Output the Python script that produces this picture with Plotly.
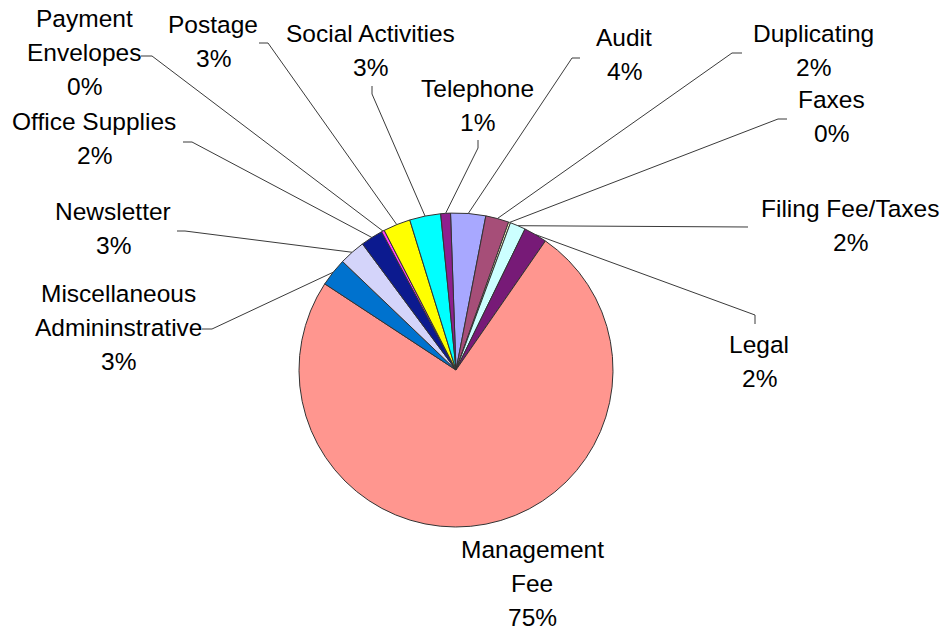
import math
import plotly.graph_objects as go

# ---------------- data ----------------
categories = ["Audit", "Duplicating", "Faxes", "Filing Fee/Taxes", "Legal",
              "Management Fee", "Miscellaneous Admininstrative", "Newsletter",
              "Office Supplies", "Payment Envelopes", "Postage",
              "Social Activities", "Telephone"]
values = [3.6, 2.4, 0.2, 1.6, 2.4, 74.6, 2.9, 2.7, 2.3, 0.3, 2.8, 3.2, 1.0]
label_lines = [["Audit"], ["Duplicating"], ["Faxes"], ["Filing Fee/Taxes"], ["Legal"],
               ["Management", "Fee"], ["Miscellaneous", "Admininstrative"], ["Newsletter"],
               ["Office Supplies"], ["Payment", "Envelopes"], ["Postage"],
               ["Social Activities"], ["Telephone"]]

# ---------------- styles / layout ----------------
colors = ["#A8A8FF", "#A64E78", "#FFFFCC", "#CCFFFF", "#771A77", "#FF968F",
          "#0072CE", "#D4D4FA", "#0C1A8F", "#FF40FF", "#FFFF00", "#00FFFF", "#8E208E"]

W, H = 948, 635
CX, CY, R = 456, 370, 157
ROT = -2
FONT = "Liberation Sans, Arial, sans-serif"
FS = 24.5
LINE_GAP = 34

# label placement: (center x px, first baseline px)
label_pos = [(624, 46), (813, 42), (831, 107.5), (850, 217), (759, 353),
             (532, 558), (118, 302), (113, 220), (94, 130), (84, 27),
             (213, 32.5), (370, 42), (477, 97)]
# leader line: label-side points (px); the line continues to slice edge
leaders = [[(580, 58), (572, 58)],
           [(742, 53), (732, 53)],
           [(787, 119), (778, 119)],
           [(748, 227)],
           [(755, 324), (755, 315)],
           None,
           [(202, 329), (212, 329)],
           [(177, 231), (185, 231)],
           [(183, 142), (192, 142)],
           [(141, 56), (152, 56)],
           [(259, 43), (268, 43)],
           [(372, 86), (372, 94)],
           [(478, 140), (478, 148)]]

def px(x):
    return x / W

def py(y):
    return 1 - y / H

total = sum(values)
pcts = [math.floor(v / total * 100 + 0.5) for v in values]

fig = go.Figure(go.Pie(
    labels=categories, values=values, sort=False, direction="clockwise",
    rotation=ROT, textinfo="none", hoverinfo="label+percent",
    marker=dict(colors=colors, line=dict(color="#333333", width=1)),
    domain=dict(x=[px(CX - R), px(CX + R)], y=[py(CY + R), py(CY - R)]),
    showlegend=False,
))

annotations = []
shapes = []
cum = 0.0
for i, v in enumerate(values):
    mid = ROT + (cum + v / 2) / total * 360
    cum += v
    lines = label_lines[i] + ["%d%%" % pcts[i]]
    x0, b0 = label_pos[i]
    for k, t in enumerate(lines):
        base = b0 + k * LINE_GAP
        annotations.append(dict(
            x=px(x0), y=py(base - 0.3465 * FS), xref="paper", yref="paper",
            text=t, showarrow=False, xanchor="center", yanchor="middle",
            font=dict(family=FONT, size=FS, color="#000000")))
    if leaders[i]:
        a = math.radians(mid)
        ex, ey = CX + R * math.sin(a), CY - R * math.cos(a)
        pts = leaders[i] + [(ex, ey)]
        for (xa, ya), (xb, yb) in zip(pts[:-1], pts[1:]):
            shapes.append(dict(type="line", xref="paper", yref="paper",
                               x0=px(xa), y0=py(ya), x1=px(xb), y1=py(yb),
                               line=dict(color="#3a3a3a", width=1), layer="below"))

fig.update_layout(
    width=W, height=H, margin=dict(l=0, r=0, t=0, b=0),
    paper_bgcolor="white", plot_bgcolor="white",
    annotations=annotations, shapes=shapes,
)

fig.write_html("out.html", config={"displayModeBar": False},
               post_script="document.body.style.margin='0';document.body.style.overflow='hidden';")
